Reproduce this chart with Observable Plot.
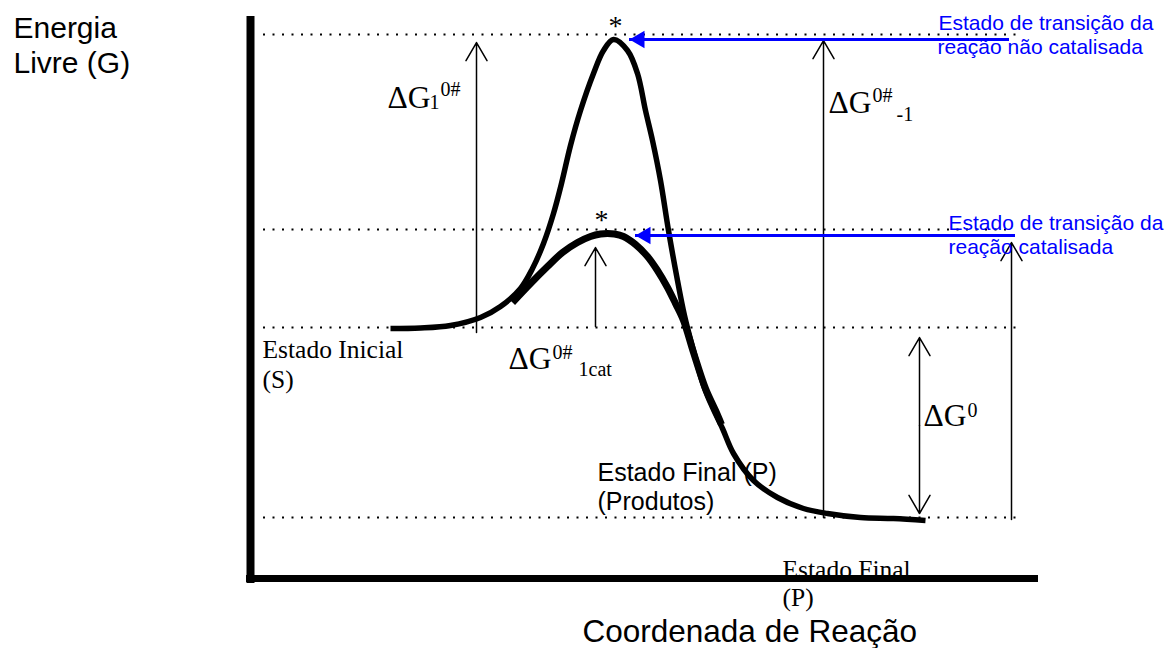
<!DOCTYPE html>
<html>
<head>
<meta charset="utf-8">
<script src="https://cdn.jsdelivr.net/npm/d3@7"></script>
<script src="https://cdn.jsdelivr.net/npm/@observablehq/plot@0.6"></script>
<style>
  html, body { margin: 0; padding: 0; background: #ffffff; }
  #chart svg { display: block; }
</style>
</head>
<body>
<div id="chart"></div>
<script>
// ---- Data (reaction coordinate x, free energy G) ----
// Uncatalysed reaction profile
const uncatX = [140, 170, 200, 230, 250, 270, 282, 293, 303, 311, 320, 330, 343, 353, 363, 377, 387, 395, 402, 410, 418, 427, 434, 443, 453, 462, 472, 483, 503, 527, 553, 577, 610, 643, 675];
const uncatG = [250, 250.5, 253, 261, 272, 290, 310, 335, 365, 395, 433, 468, 505, 528, 539, 528, 505, 468, 438, 398, 348, 298, 263, 228, 193, 171, 150, 125, 98, 81, 70, 65, 61, 60, 58];
// Catalysed reaction profile
const catX = [262, 280, 297, 312, 327, 340, 350, 357, 364, 373, 385, 397, 407, 417, 425, 433, 443, 455, 465, 471];
const catG = [276, 295, 312, 326, 336, 342, 344.5, 345, 344.5, 342, 334, 322, 308, 291, 275, 258, 226, 190, 168, 154];

// Dotted reference levels
const levelNames = ["ET não catalisada", "ET catalisada", "Estado inicial", "Estado final"];
const levelG = [544, 349, 251, 61];
const levelStart = [13, 13, 13, 13];
const levelEnd = [772, 762, 768, 770];

// Thin black arrows (energy differences)
const arrowNames = ["ΔG1", "ΔG1cat", "ΔG-1", "ΔG0 up", "ΔG0 down", "ΔG-1cat"];
const arrowX = [226, 345, 573, 669, 669, 761];
const arrowFrom = [246, 252, 61, 153, 153, 59];
const arrowTo = [536, 331, 538, 241, 65, 336];

// Blue pointer arrows to the transition states
const tsTip = [379, 385];
const tsEnd = [759, 765];
const tsG = [539, 343];

// Axes frame
const axisX0 = 0, axisG0 = 0;

// Labels
const deltaText = ["ΔG", "ΔG", "ΔG", "ΔG"];
const deltaX = [137, 578, 258, 673];
const deltaG = [471, 466, 210, 153];

const scriptText = ["1", "0#", "0#", "-1", "0#", "1cat", "0"];
const scriptX = [179, 190, 622, 646, 302, 328, 717];
const scriptG = [470, 483, 476.5, 458, 220, 203, 162];

const starText = ["*", "*"];
const starX = [365, 351];
const starG = [544, 350];

const serifText = ["Estado Inicial", "(S)", "Estado Final", "(P)"];
const serifX = [12, 12, 532, 532];
const serifG = [221, 190.5, 1, -27.5];

const sansText = ["Estado Final (P)", "(Produtos)"];
const sansX = [347, 347];
const sansG = [98, 69];

const axisText = ["Energia", "Livre (G)", "Coordenada de Reação"];
const axisTextX = [-237, -237, 332];
const axisTextG = [541, 506, -63];
const axisTextSize = [30, 30, 31.5];

const blueText = ["Estado de transição da", "reação não catalisada", "Estado de transição da", "reação catalisada"];
const blueX = [688, 687, 698, 698];
const blueG = [549, 525, 349, 325];

// ---- Tables ----
const uncat = uncatX.map((x, i) => ({x, G: uncatG[i]}));
const cat = catX.map((x, i) => ({x, G: catG[i]}));
const levels = levelG.map((G, i) => ({name: levelNames[i], G, x1: levelStart[i], x2: levelEnd[i]}));
const arrows = arrowX.map((x, i) => ({name: arrowNames[i], x, from: arrowFrom[i], to: arrowTo[i]}));
const ts = tsG.map((G, i) => ({G, tip: tsTip[i], end: tsEnd[i]}));
const zip = (T, X, Y) => T.map((t, i) => ({t, x: X[i], G: Y[i]}));

const serif = "'Liberation Serif', 'Times New Roman', Times, serif";
const sans = "'Liberation Sans', Arial, Helvetica, sans-serif";
const blue = "#0000ff";

const chart = Plot.plot({
  width: 1168,
  height: 648,
  margin: 0,
  x: {domain: [-250, 918], axis: null},
  y: {domain: [-70, 578], axis: null},
  style: {background: "#ffffff", color: "#000000"},
  marks: [
    // dotted levels
    Plot.ruleY(levels, {y: "G", x1: "x1", x2: "x2", stroke: "#000", strokeWidth: 2, strokeDasharray: "2,7.5"}),
    // text labels
    Plot.text(zip(serifText, serifX, serifG), {x: "x", y: "G", text: "t", fontFamily: serif, fontSize: 25.5, textAnchor: "start", lineAnchor: "bottom", fill: "#000"}),
    Plot.text(zip(sansText, sansX, sansG), {x: "x", y: "G", text: "t", fontFamily: sans, fontSize: 25, textAnchor: "start", lineAnchor: "bottom", fill: "#000"}),
    Plot.text(axisText.map((t, i) => ({t, x: axisTextX[i], G: axisTextG[i], s: axisTextSize[i]})), {x: "x", y: "G", text: "t", fontSize: "s", fontFamily: sans, textAnchor: "start", lineAnchor: "bottom", fill: "#000"}),
    Plot.text(zip(deltaText, deltaX, deltaG), {x: "x", y: "G", text: "t", fontFamily: serif, fontSize: 31.5, textAnchor: "start", lineAnchor: "bottom", fill: "#000"}),
    Plot.text(zip(scriptText, scriptX, scriptG), {x: "x", y: "G", text: "t", fontFamily: serif, fontSize: 20, textAnchor: "start", lineAnchor: "bottom", fill: "#000"}),
    Plot.text(zip(starText, starX, starG), {x: "x", y: "G", text: "t", fontFamily: serif, fontSize: 28, textAnchor: "middle", lineAnchor: "bottom", fill: "#000"}),
    // thin arrows
    Plot.arrow(arrows, {x1: "x", x2: "x", y1: "from", y2: "to", stroke: "#000", strokeWidth: 1.5, headLength: 21, headAngle: 60}),
    // axes frame
    Plot.ruleX([axisX0], {y1: -5, y2: 562, stroke: "#000", strokeWidth: 8}),
    Plot.ruleY([axisG0], {x1: -4, x2: 788, stroke: "#000", strokeWidth: 7}),
    // reaction profiles
    Plot.line(uncat, {x: "x", y: "G", curve: "catmull-rom", stroke: "#000", strokeWidth: 5.5, strokeLinecap: "butt"}),
    Plot.line(cat, {x: "x", y: "G", curve: "catmull-rom", stroke: "#000", strokeWidth: 7, strokeLinecap: "butt"}),
    // blue pointers
    Plot.ruleY(ts, {y: "G", x1: "tip", x2: "end", stroke: blue, strokeWidth: 3}),
    Plot.dot(ts, {x: "tip", y: "G", symbol: "triangle", r: 6.43, rotate: -90, fill: blue, stroke: "none", dx: 10}),
    Plot.text(zip(blueText, blueX, blueG), {x: "x", y: "G", text: "t", fontFamily: sans, fontSize: 21, textAnchor: "start", lineAnchor: "bottom", fill: blue})
  ]
});
document.getElementById("chart").appendChild(chart);
</script>
</body>
</html>
